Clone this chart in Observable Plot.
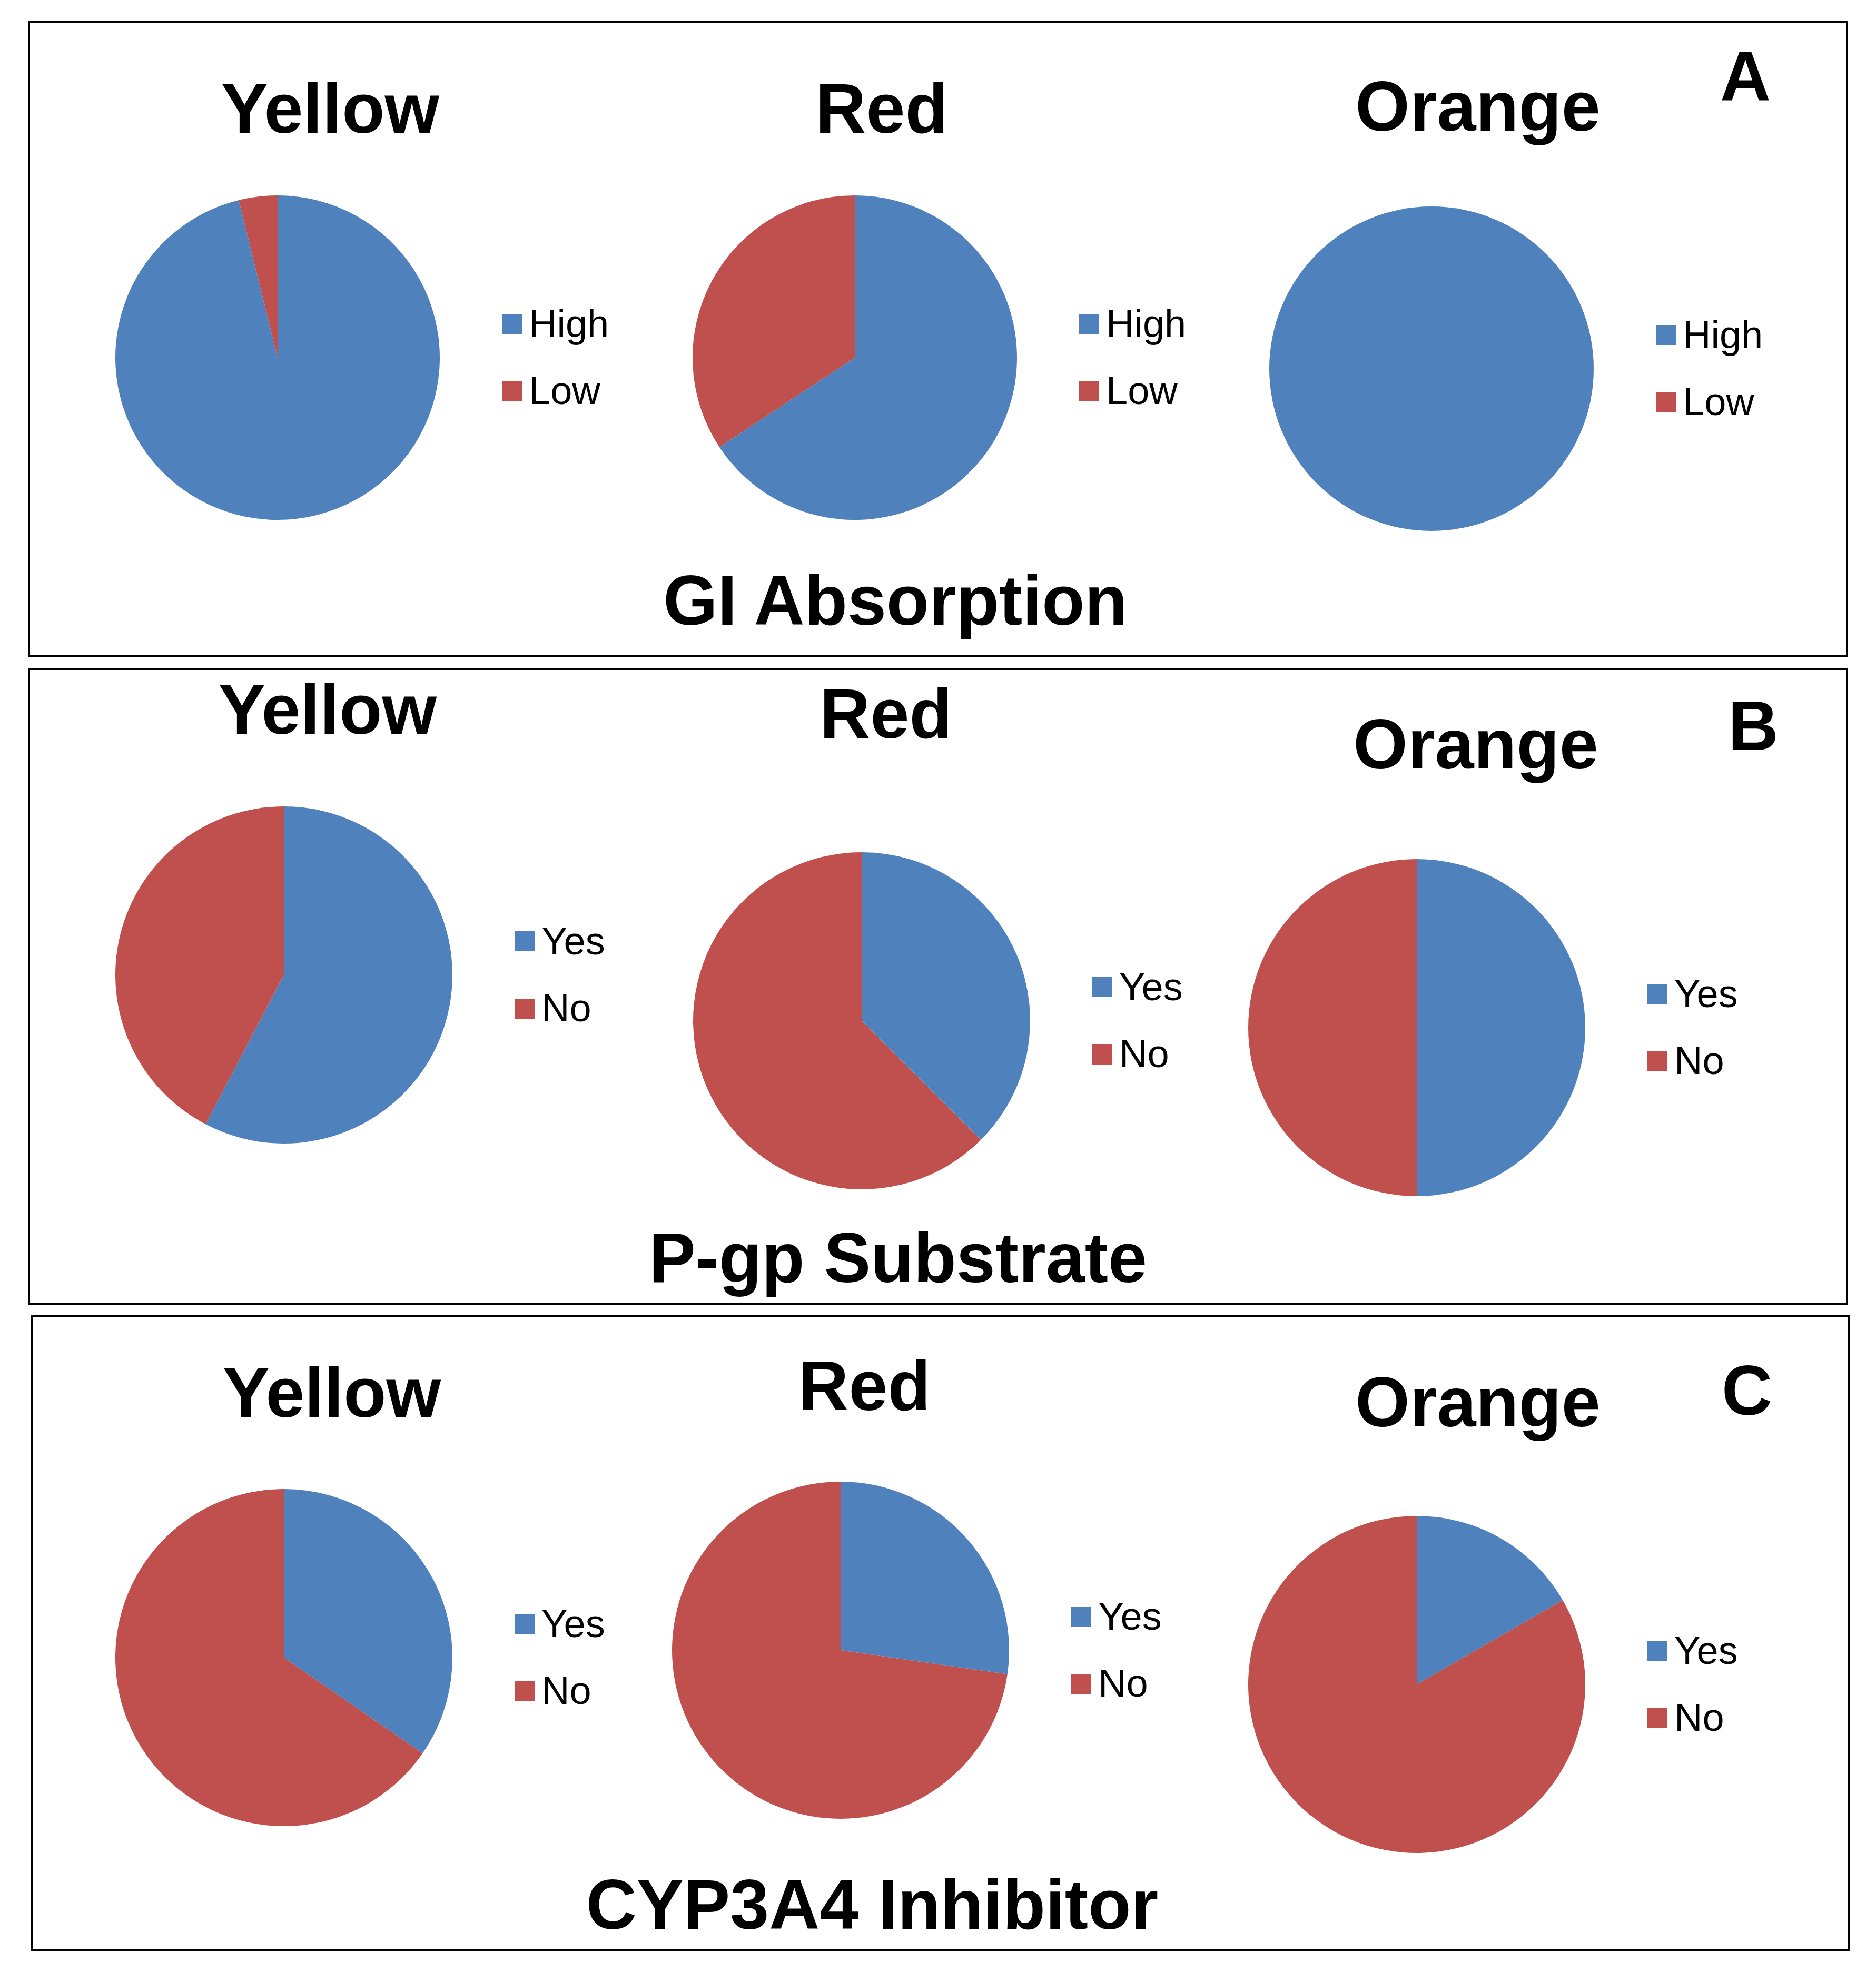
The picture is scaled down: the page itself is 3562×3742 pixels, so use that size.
<!DOCTYPE html>
<html>
<head>
<meta charset="utf-8">
<script src="https://cdn.jsdelivr.net/npm/d3@7"></script>
<script src="https://cdn.jsdelivr.net/npm/@observablehq/plot@0.6"></script>
<style>
html, body { margin: 0; padding: 0; background: #fff; }
#root { position: relative; width: 3562px; height: 3742px; background: #fff; overflow: hidden;
  font-family: "Liberation Sans", Arial, sans-serif; color: #000; }
.panel { position: absolute; box-sizing: border-box; border: 4.5px solid #000; }
.ttl { position: absolute; font-weight: bold; font-size: 133px; line-height: 1; white-space: nowrap;
  transform: translateX(-50%); color: #000; font-family: "Liberation Sans", Arial, sans-serif; }
.pie { position: absolute; }
.leg { position: absolute; }
.lg-swatches { font-family: "Liberation Sans", Arial, sans-serif; font-size: 74px; line-height: 1.25; margin: 0; color: #000; }
.lg-swatch { padding-bottom: 35px; }
.lg-swatch > svg { margin-right: 13px; }
.lg-swatch-label { overflow: visible !important; text-overflow: clip !important; line-height: 1.25; }
</style>
</head>
<body>
<div id="root"></div>
<script>
// ---- data ----
const groups = ["Yellow", "Red", "Orange"];
const panelLetters = ["A", "B", "C"];
const panelTitles = ["GI Absorption", "P-gp Substrate", "CYP3A4 Inhibitor"];
const giLabels = ["High", "Low"];
const ynLabels = ["Yes", "No"];
const giHigh = [25, 23, 12];
const giLow = [1, 12, 0];
const pgpYes = [15, 3, 1];
const pgpNo = [11, 5, 1];
const cypYes = [9, 3, 1];
const cypNo = [17, 8, 5];
const sliceColors = ["#4F81BD", "#C0504D"];

const panelsData = [
  {labels: giLabels, series: [giHigh, giLow]},
  {labels: ynLabels, series: [pgpYes, pgpNo]},
  {labels: ynLabels, series: [cypYes, cypNo]}
];

// ---- layout (pixels) ----
const layout = [
  {box: [53, 40, 3456, 1208], r: 308, legDx: 426,
   pies: [[527, 679], [1623, 679], [2718, 700]],
   titles: [[627, 253], [1674, 253], [2806, 249]], letter: [3314, 192], bottom: [1700, 1187]},
  {box: [53, 1268, 3456, 1209], r: 320, legDx: 438,
   pies: [[539, 1851], [1636, 1938], [2690, 1951]],
   titles: [[622, 1394], [1682, 1402], [2802, 1460]], letter: [3329, 1425], bottom: [1705, 2435]},
  {box: [58, 2496, 3455, 1208], r: 320, legDx: 438,
   pies: [[539, 3147], [1596, 3133], [2690, 3198]],
   titles: [[630, 2691], [1641, 2678], [2806, 2709]], letter: [3317, 2687], bottom: [1656, 3663]}
];

const root = document.getElementById("root");
const TITLE_SIZE = 133;
const ASC = 0.8465; // baseline offset (em) for line-height 1 in Liberation Sans
const LEG_SIZE = 74;

function addText(txt, cx, baseline) {
  const d = document.createElement("div");
  d.className = "ttl";
  d.textContent = txt;
  d.style.left = cx + "px";
  d.style.top = (baseline - ASC * TITLE_SIZE) + "px";
  root.appendChild(d);
}

function pieMark(slices, labels) {
  return (index, scales, values, dims) => {
    const x = scales.x, y = scales.y;
    const cx = x ? x(0) : dims.width / 2;
    const cy = y ? y(0) : dims.height / 2;
    const r = x ? Math.abs(x(1) - x(0)) : dims.width / 2;
    const color = scales.color || d3.scaleOrdinal(labels, sliceColors);
    const arcs = d3.pie().value(d => d.value).sort(null)(slices).filter(a => a.data.value > 0);
    const arc = d3.arc().innerRadius(0).outerRadius(r);
    const g = d3.create("svg:g").attr("transform", `translate(${cx},${cy})`);
    g.selectAll("path").data(arcs).join("path")
      .attr("d", arc)
      .attr("fill", d => color(d.data.label));
    return g.node();
  };
}

panelsData.forEach((pd, p) => {
  const L = layout[p];
  const box = document.createElement("div");
  box.className = "panel";
  box.style.left = L.box[0] + "px";
  box.style.top = L.box[1] + "px";
  box.style.width = L.box[2] + "px";
  box.style.height = L.box[3] + "px";
  root.appendChild(box);

  groups.forEach((grp, g) => {
    const slices = pd.labels.map((label, k) => ({label, value: pd.series[k][g]}));
    const [cx, cy] = L.pies[g];
    const r = L.r;
    const svg = Plot.plot({
      width: 2 * r, height: 2 * r, margin: 0,
      x: {domain: [-1, 1], axis: null},
      y: {domain: [-1, 1], axis: null},
      color: {domain: pd.labels, range: sliceColors},
      marks: [pieMark(slices, pd.labels)]
    });
    const wrap = document.createElement("div");
    wrap.className = "pie";
    wrap.style.left = (cx - r) + "px";
    wrap.style.top = (cy - r) + "px";
    wrap.appendChild(svg);
    root.appendChild(wrap);

    const leg = Plot.legend({
      color: {domain: pd.labels, range: sliceColors},
      legend: "swatches", columns: 1, swatchSize: 38, className: "lg"
    });
    const lw = document.createElement("div");
    lw.className = "leg";
    lw.style.left = (cx + L.legDx) + "px";
    lw.style.top = (cy - 64 - 1.25 * LEG_SIZE / 2) + "px";
    lw.appendChild(leg);
    root.appendChild(lw);

    addText(grp, L.titles[g][0], L.titles[g][1]);
  });
  addText(panelLetters[p], L.letter[0], L.letter[1]);
  addText(panelTitles[p], L.bottom[0], L.bottom[1]);
});
</script>
</body>
</html>
